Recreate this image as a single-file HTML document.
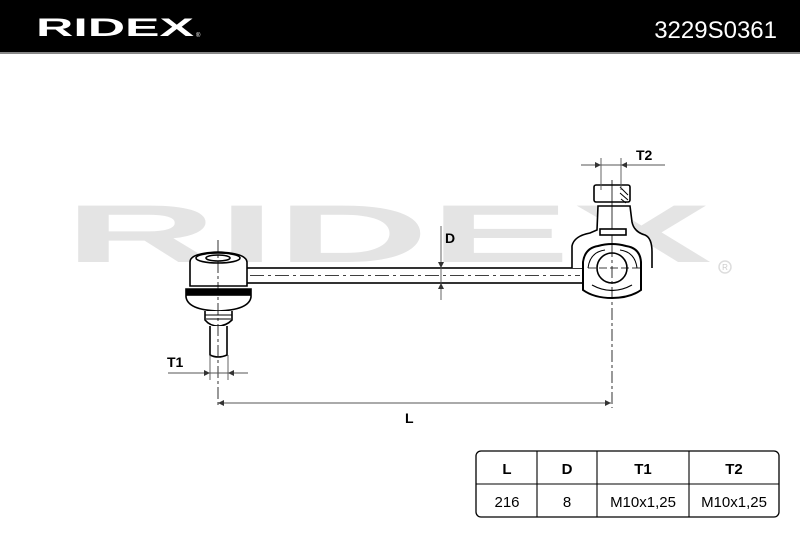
<!DOCTYPE html>
<html><head><meta charset="utf-8"><style>
body{margin:0;width:800px;height:533px;overflow:hidden;background:#fff;font-family:"Liberation Sans",sans-serif}
</style></head><body>
<svg width="800" height="533" viewBox="0 0 800 533" xmlns="http://www.w3.org/2000/svg">
<rect x="0" y="0" width="800" height="52" fill="#000"/>
<rect x="0" y="52" width="800" height="2" fill="#888"/>
<text x="36" y="36" font-size="25" font-weight="bold" fill="#fff" textLength="158" lengthAdjust="spacingAndGlyphs">RIDEX</text>
<text x="196" y="37" font-size="6" fill="#fff">®</text>
<text x="777" y="38" font-size="24" fill="#fff" text-anchor="end">3229S0361</text>
<!-- watermark -->
<text x="64" y="262" font-size="82" font-weight="bold" fill="#e4e4e4" textLength="648" lengthAdjust="spacingAndGlyphs">RIDEX</text>
<circle cx="725" cy="267" r="6" fill="none" stroke="#ddd" stroke-width="1.5"/>
<text x="725" y="270" font-size="8" fill="#ccc" text-anchor="middle">R</text>
<g fill="none" stroke="#000" stroke-width="1.6">
<!-- rod -->
<rect x="246" y="268" width="340" height="15" fill="#fff"/>
<line x1="250" y1="275.5" x2="580" y2="275.5" stroke-width="0.8" stroke-dasharray="14,4,3,4"/>
<!-- left joint -->
<path d="M190 262 Q190 253 218 252 Q246 253 247 262 L247 286 L190 286 Z" fill="#fff"/>
<ellipse cx="218" cy="258" rx="22" ry="5"/>
<ellipse cx="218" cy="258" rx="12" ry="3"/>
<path d="M186 289 L251 289 L251 297 Q249 310 218 311 Q188 310 186 297 Z" fill="#fff"/>
<rect x="187" y="290" width="63" height="5" fill="#000"/>
<path d="M205 311 L205 320 Q210 326 218 326 Q226 326 232 320 L232 311" fill="#fff"/>
<line x1="205" y1="315" x2="232" y2="315" stroke-width="1"/>
<line x1="206" y1="319" x2="231" y2="319" stroke-width="1"/>
<path d="M210 326 L210 355 Q218 359 227 355 L227 326" fill="#fff"/>
<line x1="218" y1="240" x2="218" y2="408" stroke-width="0.8" stroke-dasharray="12,3,3,3"/>
<!-- right housing -->
<path d="M572 268 L572 246 Q574 236 590 233 L597 230 L598 206 L630 206 L632 222 Q634 232 645 235 Q652 238 652 252 L652 268" fill="#fff"/>
<rect x="594" y="185" width="36" height="17" rx="2" fill="#fff"/>
<line x1="612" y1="180" x2="612" y2="245" stroke-width="0.8"/>
<path d="M620 187 L628 195 M620 193 L628 200 M621 199 L626 203" stroke-width="1"/>
<rect x="600" y="229" width="26" height="6" fill="#fff"/>
<path d="M583 262 Q585 248 598 246 Q605 244 612 244 Q619 244 626 246 Q640 248 641 262 L641 290 Q630 298 612 298 Q594 298 583 290 Z" fill="#fff" stroke-width="2"/>
<path d="M588 268 Q590 252 605 250 M637 268 Q635 252 620 250" stroke-width="1"/>
<circle cx="612" cy="268" r="15" fill="#fff"/>
<path d="M592 285 Q612 296 632 285" stroke-width="1.2"/>
<line x1="612" y1="245" x2="612" y2="408" stroke-width="0.8" stroke-dasharray="12,3,3,3"/>
<line x1="588" y1="268" x2="640" y2="268" stroke-width="0.8" stroke-dasharray="8,3"/>
</g>
<!-- dimensions -->
<g stroke="#555" stroke-width="0.9" fill="none">
<line x1="441" y1="226" x2="441" y2="300"/>
<line x1="168" y1="373" x2="248" y2="373"/>
<line x1="210" y1="355" x2="210" y2="380"/>
<line x1="228" y1="355" x2="228" y2="380"/>
<line x1="218" y1="403" x2="611" y2="403"/>
<line x1="581" y1="165" x2="665" y2="165"/>
<line x1="601" y1="158" x2="601" y2="190"/>
<line x1="621" y1="158" x2="621" y2="190"/>
</g>
<g fill="#333">
<path d="M438 262 L444 262 L441 268 Z"/><path d="M438 289 L444 289 L441 283 Z"/>
<path d="M204 370 L204 376 L210 373 Z"/><path d="M234 370 L234 376 L228 373 Z"/>
<path d="M224 400 L224 406 L218 403 Z"/><path d="M605 400 L605 406 L611 403 Z"/>
<path d="M595 162 L595 168 L601 165 Z"/><path d="M627 162 L627 168 L621 165 Z"/>
</g>
<g font-size="14" font-weight="bold" fill="#000">
<text x="445" y="243">D</text>
<text x="167" y="367">T1</text>
<text x="405" y="423">L</text>
<text x="636" y="160">T2</text>
</g>
<!-- table -->
<rect x="476" y="451" width="303" height="66" rx="5" fill="#fff" stroke="#000" stroke-width="1.3"/>
<g stroke="#000" stroke-width="1.1">
<line x1="476" y1="484" x2="779" y2="484"/>
<line x1="537" y1="451" x2="537" y2="517"/>
<line x1="597" y1="451" x2="597" y2="517"/>
<line x1="689" y1="451" x2="689" y2="517"/>
</g>
<g font-size="15" text-anchor="middle" fill="#000">
<g font-weight="bold"><text x="507" y="474">L</text><text x="567" y="474">D</text><text x="643" y="474">T1</text><text x="734" y="474">T2</text></g>
<text x="507" y="507">216</text><text x="567" y="507">8</text><text x="643" y="507">M10x1,25</text><text x="734" y="507">M10x1,25</text>
</g>
</svg>
</body></html>
